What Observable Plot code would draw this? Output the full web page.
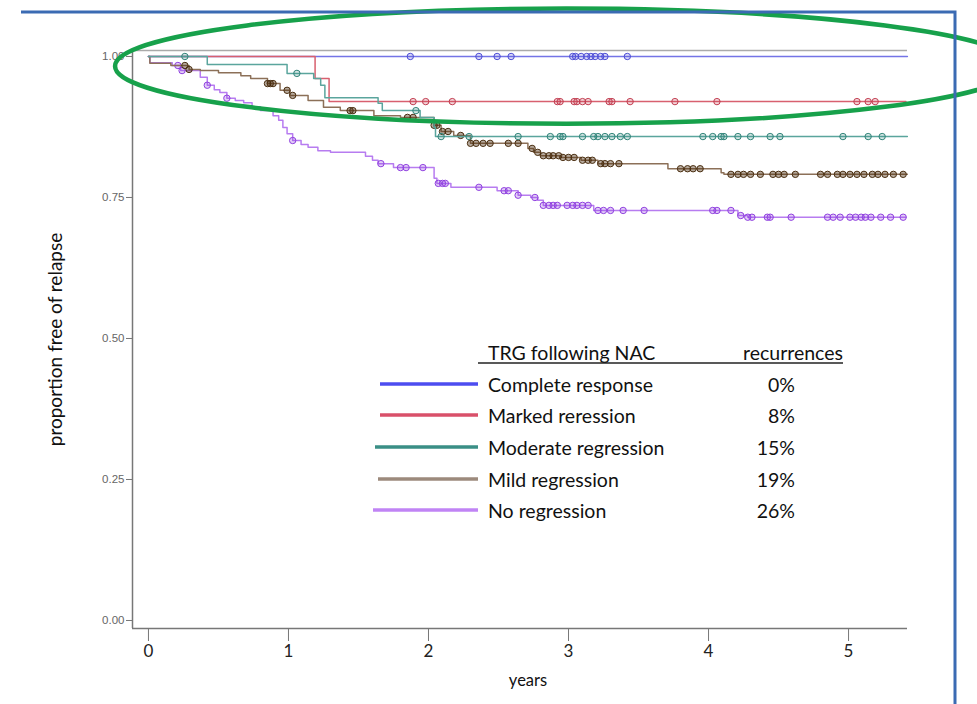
<!DOCTYPE html>
<html><head><meta charset="utf-8">
<script src="https://cdn.jsdelivr.net/npm/d3@7"></script>
<script src="https://cdn.jsdelivr.net/npm/@observablehq/plot@0.6"></script>
<style>
body{margin:0;background:#fff}
#chart{position:relative;width:977px;height:704px;overflow:hidden}
#chart svg{overflow:hidden}
g[aria-label="y-axis tick label"]{font-family:"Liberation Sans",Arial,sans-serif}
</style>
</head><body><div id="chart"></div>
<script>
// ---- data ----
const groups = ["Complete response","Marked reression","Moderate regression","Mild regression","No regression"];
const recurrences = ["0%","8%","15%","19%","26%"];

const completeT = [0, 5.42];
const completeP = [1, 1];
const completeCens = [1.87,2.36,2.49,2.59,3.03,3.05,3.09,3.13,3.16,3.19,3.23,3.26,3.42];

const markedT = [0, 1.19, 1.29, 5.41];
const markedP = [1, 0.961, 0.920, 0.920];
const markedCens = [1.89,1.98,2.17,2.92,2.94,3.04,3.06,3.10,3.14,3.29,3.31,3.44,3.76,4.06,5.06,5.14,5.19];

const moderateT = [0, 0.42, 0.99, 1.18, 1.23, 1.26, 1.64, 1.67, 1.94, 2.04, 2.05, 5.42];
const moderateP = [1, 0.986, 0.970, 0.961, 0.949, 0.927, 0.917, 0.904, 0.892, 0.874, 0.858, 0.858];
const moderateCens = [0.26,1.06,1.91,2.09,2.29,2.64,2.87,2.94,2.96,3.10,3.18,3.21,3.26,3.31,3.37,3.42,3.96,4.03,4.09,4.11,4.21,4.30,4.44,4.51,4.96,5.14,5.24];

const mildT = [0, 0.01, 0.16, 0.29, 0.37, 0.50, 0.66, 0.73, 0.85, 0.94, 1.01, 1.14, 1.25, 1.37, 1.61, 1.80, 2.04, 2.09, 2.18, 2.30, 2.71, 2.75, 2.80, 2.94, 3.09, 3.21, 3.71, 4.09, 4.11, 5.42];
const mildP = [1, 0.988, 0.984, 0.977, 0.975, 0.971, 0.966, 0.961, 0.952, 0.940, 0.931, 0.922, 0.910, 0.904, 0.895, 0.892, 0.878, 0.867, 0.860, 0.846, 0.837, 0.830, 0.824, 0.821, 0.816, 0.810, 0.801, 0.794, 0.791, 0.791];
const mildCens = [0.26,0.29,0.85,0.87,0.89,0.99,1.03,1.44,1.46,1.85,1.89,2.04,2.06,2.10,2.14,2.23,2.30,2.34,2.39,2.44,2.57,2.64,2.74,2.78,2.82,2.86,2.89,2.93,2.96,3.00,3.04,3.10,3.14,3.17,3.23,3.26,3.30,3.36,3.80,3.85,3.89,3.94,4.16,4.21,4.25,4.30,4.37,4.46,4.50,4.54,4.62,4.80,4.85,4.92,4.96,5.01,5.06,5.11,5.17,5.21,5.26,5.32,5.39];

const noT = [0, 0.01, 0.17, 0.23, 0.37, 0.42, 0.47, 0.51, 0.56, 0.62, 0.68, 0.74, 0.80, 0.89, 0.93, 0.96, 0.99, 1.03, 1.09, 1.14, 1.21, 1.30, 1.55, 1.60, 1.64, 1.75, 2.04, 2.06, 2.16, 2.49, 2.64, 2.73, 2.78, 2.82, 3.18, 4.21, 4.28, 5.41];
const noP = [1, 0.989, 0.984, 0.975, 0.963, 0.949, 0.941, 0.936, 0.926, 0.922, 0.918, 0.911, 0.904, 0.895, 0.887, 0.874, 0.863, 0.851, 0.844, 0.839, 0.833, 0.830, 0.823, 0.816, 0.810, 0.803, 0.784, 0.775, 0.768, 0.762, 0.754, 0.750, 0.745, 0.736, 0.727, 0.718, 0.715, 0.715];
const noCens = [0.21,0.24,0.42,0.56,1.03,1.66,1.80,1.84,1.96,2.07,2.10,2.12,2.36,2.54,2.57,2.64,2.76,2.82,2.86,2.89,2.92,2.99,3.03,3.06,3.10,3.14,3.21,3.25,3.30,3.39,3.54,4.03,4.06,4.16,4.23,4.28,4.31,4.42,4.44,4.59,4.85,4.89,4.94,5.01,5.05,5.09,5.12,5.16,5.23,5.30,5.39];

const xTicks = [0,1,2,3,4,5];
const yTicks = [0,0.25,0.5,0.75,1];

// ---- styling ----
const lineColors = ["#7474e6","#d8606f","#5aa59d","#8c7058","#b77cf0"];
const markColors = ["#4c4cd6","#c23c4f","#2f8378","#4a2e10","#9040e0"];
const markFill = [0.2, 0.2, 0.2, 0.4, 0.25];
const legendColors = ["#4d4df0","#d9506a","#3a8f86","#9c8a7c","#c084f5"];

const series = [
  {T: completeT, P: completeP, C: completeCens},
  {T: markedT, P: markedP, C: markedCens},
  {T: moderateT, P: moderateP, C: moderateCens},
  {T: mildT, P: mildP, C: mildCens},
  {T: noT, P: noP, C: noCens}
].map((s, i) => ({...s, name: groups[i], i}));

function stepValue(T, P, t) {
  let v = P[0];
  for (let k = 0; k < T.length; k++) { if (T[k] <= t) v = P[k]; else break; }
  return v;
}

const xDomain = [-0.114, 5.421];
const yDomain = [-0.0142, 1.0106];
const drawOrder = [0, 1, 4, 3, 2];

const marks = [
  Plot.ruleY([yDomain[1]], {stroke: "#aaa", strokeWidth: 1.5}),
  Plot.ruleX([xDomain[0]], {stroke: "#777", strokeWidth: 1.5}),
  Plot.ruleY([yDomain[0]], {stroke: "#777", strokeWidth: 1.5}),
  Plot.axisY({ticks: yTicks, tickFormat: d3.format(".2f"), tickSize: 6, tickPadding: 2, fontSize: 11.5, label: null, stroke: "#777", fill: "#666"}),
  Plot.axisX({ticks: xTicks, tickFormat: d3.format("d"), tickSize: 13, tickPadding: 3, fontSize: 17, label: null, stroke: "#777", fill: "#222"}),
  Plot.text(["proportion free of relapse"], {frameAnchor: "left", textAnchor: "middle", lineAnchor: "middle", rotate: -90, dx: -77, fontSize: 19, fill: "#111"}),
  Plot.text(["years"], {frameAnchor: "bottom", textAnchor: "middle", lineAnchor: "middle", dy: 52, dx: 8, fontSize: 16.5, fill: "#111"})
];
for (const i of drawOrder) {
  const s = series[i];
  const curve = s.T.map((t, j) => ({t, p: s.P[j]}));
  const cens = s.C.map(t => ({t, p: stepValue(s.T, s.P, t)}));
  marks.push(Plot.line(curve, {x: "t", y: "p", curve: "step-after", stroke: lineColors[i], strokeWidth: 1.5}));
  marks.push(Plot.dot(cens, {x: "t", y: "p", r: 3.2, stroke: markColors[i], strokeWidth: 1, fill: markColors[i], fillOpacity: markFill[i]}));
}

const plot = Plot.plot({
  width: 977, height: 704,
  marginLeft: 132, marginRight: 70, marginTop: 50, marginBottom: 76,
  x: {domain: xDomain},
  y: {domain: yDomain},
  style: {fontFamily: "Lato, 'Open Sans', sans-serif", background: "#fff", overflow: "hidden"},
  marks
});
document.getElementById("chart").appendChild(plot);

// ---- annotations / legend ----
const svg = d3.select(plot);
const xs = plot.scale("x"), ys = plot.scale("y");

// green ellipse highlighting the top curves
const ecx = xs.apply(2.986), ecy = ys.apply(0.982);
svg.append("ellipse")
  .attr("cx", ecx).attr("cy", ecy)
  .attr("rx", xs.apply(2.986 + 3.221) - ecx)
  .attr("ry", ys.apply(0.982 - 0.102) - ecy)
  .attr("fill", "none").attr("stroke", "#17a14b").attr("stroke-width", 4.5);

// blue slide border
svg.append("path").attr("d", "M21,12H955V704")
  .attr("fill", "none").attr("stroke", "#3b6bb3").attr("stroke-width", 3);

// legend
const fs = 19.5;
const lg = svg.append("g").attr("font-family", "Lato, 'Open Sans', sans-serif").attr("fill", "#111").attr("text-anchor", "start");
lg.append("text").attr("x", 488).attr("y", 352).attr("font-size", fs).attr("text-anchor", "start").attr("dominant-baseline", "central").text("TRG following NAC");
lg.append("text").attr("x", 843).attr("y", 352).attr("font-size", fs).attr("text-anchor", "end").attr("dominant-baseline", "central").text("recurrences");
lg.append("line").attr("x1", 478).attr("x2", 843).attr("y1", 363).attr("y2", 363).attr("stroke", "#222").attr("stroke-width", 1.5);
const rowY = [384, 415, 447, 479, 510];
const sampleLeft = [380, 380, 375, 378, 373];
groups.forEach((g, i) => {
  lg.append("line").attr("x1", sampleLeft[i]).attr("x2", 478).attr("y1", rowY[i]).attr("y2", rowY[i])
    .attr("stroke", legendColors[i]).attr("stroke-width", 3.5);
  lg.append("text").attr("x", 488).attr("y", rowY[i]).attr("font-size", fs).attr("text-anchor", "start").attr("dominant-baseline", "central").text(g);
  lg.append("text").attr("x", 795).attr("y", rowY[i]).attr("font-size", fs).attr("text-anchor", "end").attr("dominant-baseline", "central").text(recurrences[i]);
});
</script></body></html>
